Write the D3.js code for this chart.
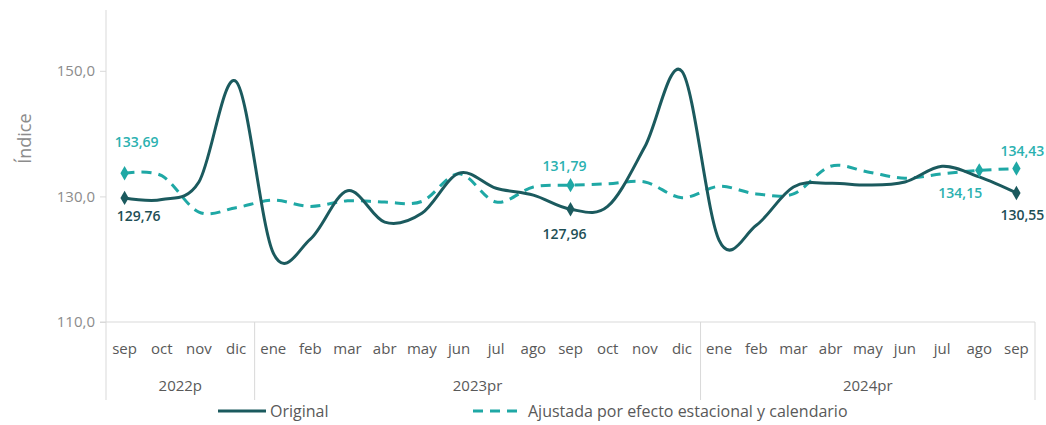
<!DOCTYPE html>
<html>
<head>
<meta charset="utf-8">
<script src="https://cdn.jsdelivr.net/npm/d3@7"></script>
<style>
  html, body { margin: 0; padding: 0; background: #fff; }
  svg { display: block; font-family: "Open Sans", "Noto Sans", sans-serif; }
</style>
</head>
<body>
<svg id="chart" width="1046" height="425"></svg>
<script>
// ---- data ----
const months = ["sep","oct","nov","dic","ene","feb","mar","abr","may","jun","jul","ago","sep","oct","nov","dic","ene","feb","mar","abr","may","jun","jul","ago","sep"];
const years = [
  { label: "2022p",  start: 0,  end: 3 },
  { label: "2023pr", start: 4,  end: 15 },
  { label: "2024pr", start: 16, end: 24 }
];
const original = [129.76,129.5,132.3,148.3,121.0,123.2,130.9,125.9,127.3,133.7,131.3,130.2,127.96,128.4,137.9,149.9,123.0,125.4,131.5,132.1,131.8,132.3,134.8,133.1,130.55];
const ajustada = [133.69,133.3,127.5,128.2,129.4,128.4,129.3,129.1,129.2,133.6,129.1,131.5,131.79,132.0,132.3,129.8,131.6,130.4,130.4,134.8,133.9,132.9,133.6,134.15,134.43];
const yTicks = [110, 130, 150];
const originalMarks = [0, 12, 24];
const ajustadaMarks = [0, 12, 23, 24];
const seriesNames = ["Original", "Ajustada por efecto estacional y calendario"];

// ---- layout ----
const svg = d3.select("#chart");
const pLeft = 106, pRight = 1035, pTop = 8, pBottom = 322;
const colOrig = "#1b5a5e", colAdj = "#1fa8a5";
const colOrigLbl = "#1e4f56", colAdjLbl = "#2bb1b0";
const axisCol = "#d9d9d9", textCol = "#595959", tickCol = "#8c8c8c";

const x = d3.scaleBand().domain(d3.range(months.length)).range([pLeft, pRight]).padding(0);
const cx = i => x(i) + x.bandwidth() / 2;
const y = d3.scaleLinear().domain([110, 160]).range([pBottom, pTop]);

const fmt = v => d3.format(".2f")(v).replace(".", ",");
const fmtTick = v => d3.format(".1f")(v).replace(".", ",");

// axes lines
svg.append("line").attr("x1", pLeft).attr("x2", pLeft).attr("y1", 10).attr("y2", 400)
  .attr("stroke", axisCol).attr("stroke-width", 1);
svg.append("line").attr("x1", pLeft - 6).attr("x2", pRight).attr("y1", y(110)).attr("y2", y(110))
  .attr("stroke", axisCol).attr("stroke-width", 1);
svg.append("line").attr("x1", pRight).attr("x2", pRight).attr("y1", y(110)).attr("y2", 400)
  .attr("stroke", axisCol).attr("stroke-width", 1);
years.forEach((g, k) => {
  if (k === 0) return;
  const xs = x(g.start);
  svg.append("line").attr("x1", xs).attr("x2", xs).attr("y1", y(110)).attr("y2", 400)
    .attr("stroke", axisCol).attr("stroke-width", 1);
});

// y axis
const yAxis = d3.axisLeft(y).tickValues(yTicks).tickFormat(fmtTick).tickSize(6).tickPadding(5);
const gy = svg.append("g").attr("transform", `translate(${pLeft},0)`).call(yAxis);
gy.select(".domain").remove();
gy.selectAll(".tick line").attr("stroke", axisCol);
gy.selectAll(".tick text").attr("fill", tickCol).style("font-size", "15px")
  .style("font-family", "'Open Sans', 'Noto Sans', sans-serif");

svg.append("text").attr("transform", `translate(31,${(y(150)+y(130))/2 + 5}) rotate(-90)`)
  .attr("text-anchor", "middle").attr("fill", tickCol).style("font-size", "18px").text("Índice");

// x axis months
const xAxis = d3.axisBottom(x).tickFormat(i => months[i]).tickSize(0).tickPadding(21);
const gx = svg.append("g").attr("transform", `translate(0,${pBottom})`).call(xAxis);
gx.select(".domain").remove();
gx.selectAll(".tick text").attr("fill", textCol).style("font-size", "15px")
  .style("font-family", "'Open Sans', 'Noto Sans', sans-serif");

// year labels
svg.selectAll("text.year").data(years).join("text").attr("class", "year")
  .attr("x", g => (x(g.start) + x(g.end) + x.bandwidth()) / 2)
  .attr("y", 391).attr("text-anchor", "middle").attr("fill", textCol)
  .style("font-size", "15px").text(g => g.label);

// lines
const line = d3.line().x((d, i) => cx(i)).y(d => y(d)).curve(d3.curveCatmullRom.alpha(0));
svg.append("path").datum(ajustada).attr("d", line).attr("fill", "none")
  .attr("stroke", colAdj).attr("stroke-width", 3).attr("stroke-dasharray", "10,7");
svg.append("path").datum(original).attr("d", line).attr("fill", "none")
  .attr("stroke", colOrig).attr("stroke-width", 3);

// markers
const diamond = d3.symbol().type(d3.symbolDiamond).size(60);
svg.selectAll("path.madj").data(ajustadaMarks).join("path").attr("class", "madj")
  .attr("d", diamond).attr("transform", i => `translate(${cx(i)},${y(ajustada[i])})`).attr("fill", colAdj);
svg.selectAll("path.morig").data(originalMarks).join("path").attr("class", "morig")
  .attr("d", diamond).attr("transform", i => `translate(${cx(i)},${y(original[i])})`).attr("fill", colOrig);

// value labels
const adjLabels = [
  { i: 0, dx: 12, dy: -26 },
  { i: 12, dx: -6, dy: -14 },
  { i: 23, dx: -19, dy: 28 },
  { i: 24, dx: 6, dy: -13 }
];
const origLabels = [
  { i: 0, dx: 14, dy: 23 },
  { i: 12, dx: -6, dy: 30 },
  { i: 24, dx: 6, dy: 27 }
];
svg.selectAll("text.ladj").data(adjLabels).join("text").attr("class", "ladj")
  .attr("x", d => cx(d.i) + d.dx).attr("y", d => y(ajustada[d.i]) + d.dy)
  .attr("text-anchor", "middle").attr("fill", colAdjLbl).style("font-size", "14px").style("font-weight", "600")
  .text(d => fmt(ajustada[d.i]));
svg.selectAll("text.lorig").data(origLabels).join("text").attr("class", "lorig")
  .attr("x", d => cx(d.i) + d.dx).attr("y", d => y(original[d.i]) + d.dy)
  .attr("text-anchor", "middle").attr("fill", colOrigLbl).style("font-size", "14px").style("font-weight", "600")
  .text(d => fmt(original[d.i]));

// legend
const lg = svg.append("g");
lg.append("line").attr("x1", 218).attr("x2", 266).attr("y1", 411).attr("y2", 411)
  .attr("stroke", colOrig).attr("stroke-width", 3);
lg.append("text").attr("x", 270).attr("y", 417).attr("fill", textCol).style("font-size", "16px").text(seriesNames[0]);
lg.append("line").attr("x1", 473).attr("x2", 522).attr("y1", 411).attr("y2", 411)
  .attr("stroke", colAdj).attr("stroke-width", 3).attr("stroke-dasharray", "10,7");
lg.append("text").attr("x", 528).attr("y", 417).attr("fill", textCol).style("font-size", "16px").text(seriesNames[1]);
</script>
</body>
</html>
